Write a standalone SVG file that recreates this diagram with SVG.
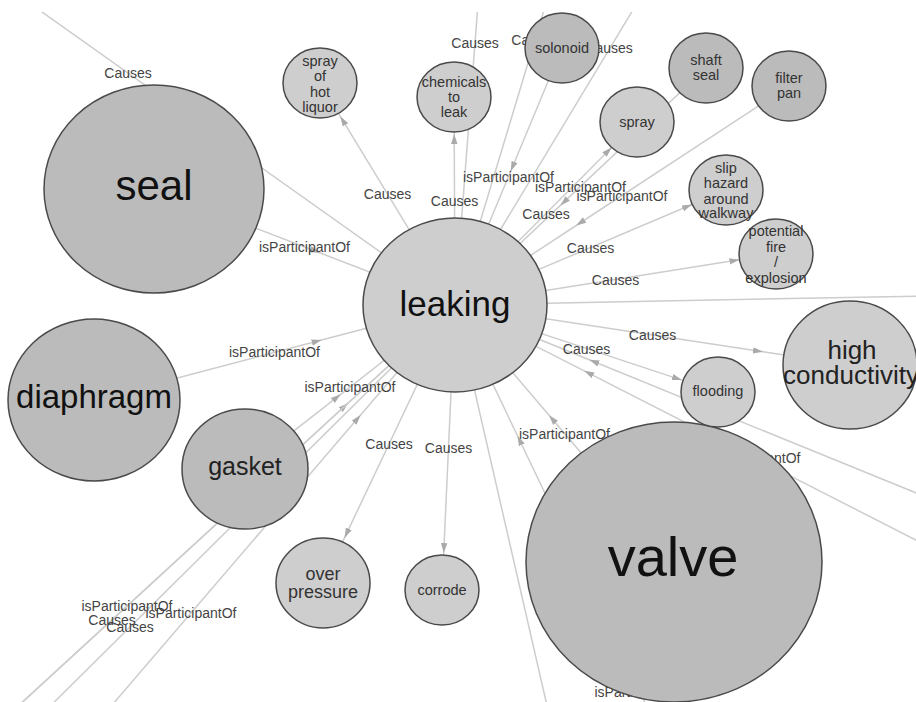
<svg xmlns="http://www.w3.org/2000/svg" width="916" height="702" viewBox="0 0 916 702">
<style>
.edge{stroke:#cdcdcd;stroke-width:1.5;fill:none}
.arr{marker-mid:url(#arrow)}
.lbl{font-family:"Liberation Sans",Arial,sans-serif;font-size:14px;fill:#444;text-anchor:middle}
.dark{fill:#bbbbbb;stroke:#4a4a4a;stroke-width:1.5}
.light{fill:#cecece;stroke:#4a4a4a;stroke-width:1.5}
.t{font-family:"Liberation Sans",Arial,sans-serif;font-size:14.5px;fill:#333;text-anchor:middle}
.big{font-family:"Liberation Sans",Arial,sans-serif;fill:#111;text-anchor:middle}
</style>
<defs>
<marker id="arrow" markerUnits="userSpaceOnUse" orient="auto" viewBox="0 -4 12 8" refX="10" refY="0" markerWidth="12" markerHeight="8">
<path d="M0,-3.2L10,0L0,3.2z" fill="#aaaaaa"/>
</marker>
<clipPath id="clipTop"><rect x="0" y="12" width="916" height="690"/></clipPath>
</defs>
<rect width="916" height="702" fill="#ffffff"/>
<g id="connectors" clip-path="url(#clipTop)">
<polyline class="edge arr" points="154,189 319.7,252.8 455,305"/>
<polyline class="edge arr" points="94,400 321.6,340 455,305"/>
<polyline class="edge arr" points="245,469 340.7,394.3 455,305"/>
<polyline class="edge arr" points="562,48 510.7,171.2 455,305"/>
<polyline class="edge arr" points="706,68 560.4,205.4 455,305"/>
<polyline class="edge arr" points="789,86 576.2,225.5 455,305"/>
<polyline class="edge arr" points="674,562 549.1,415.3 455,305"/>
<polyline class="edge arr" points="1400,690 589.3,359.8 455,305"/>
<polyline class="edge arr" points="1055,611 584.2,370.8 455,305"/>
<polyline class="edge arr" points="825,1079 517.5,435.8 455,305"/>
<polyline class="edge arr" points="-201,907 348.1,403 455,305"/>
<polyline class="edge arr" points="-73,921 360.6,415.1 455,305"/>
<line class="edge" x1="455" y1="305" x2="-231" y2="935"/>
<line class="edge" x1="455" y1="305" x2="-195" y2="949"/>
<line class="edge" x1="455" y1="305" x2="-199" y2="-159"/>
<line class="edge" x1="455" y1="305" x2="495" y2="-219"/>
<line class="edge" x1="455" y1="305" x2="615" y2="-225"/>
<line class="edge" x1="455" y1="305" x2="765" y2="-209"/>
<line class="edge" x1="455" y1="305" x2="1500" y2="285"/>
<line class="edge" x1="455" y1="305" x2="683" y2="1298"/>
<polyline class="edge arr" points="455,305 340.3,116.3 320,83"/>
<polyline class="edge arr" points="455,305 454.2,134 454,97"/>
<polyline class="edge arr" points="455,305 611.6,147.5 637,122"/>
<polyline class="edge arr" points="455,305 692,204.5 726,190"/>
<polyline class="edge arr" points="455,305 739.4,259.8 776,254"/>
<polyline class="edge arr" points="455,305 763,351.8 850,365"/>
<polyline class="edge arr" points="455,305 681.9,380.1 718,392"/>
<polyline class="edge arr" points="455,305 443.7,553 442,590"/>
<polyline class="edge arr" points="455,305 344.5,537.9 323,583"/>
</g>
<g id="edge-labels">
<text class="lbl" x="128" y="78">Causes</text>
<text class="lbl" x="304.5" y="252">isParticipantOf</text>
<text class="lbl" x="274.5" y="357">isParticipantOf</text>
<text class="lbl" x="350" y="392">isParticipantOf</text>
<text class="lbl" x="508.5" y="181.5">isParticipantOf</text>
<text class="lbl" x="580.5" y="191.5">isParticipantOf</text>
<text class="lbl" x="622" y="200.5">isParticipantOf</text>
<text class="lbl" x="564.5" y="438.5">isParticipantOf</text>
<text class="lbl" x="755" y="463">isParticipantOf</text>
<text class="lbl" x="640" y="697">isParticipantOf</text>
<text class="lbl" x="127" y="611">isParticipantOf</text>
<text class="lbl" x="112" y="625">Causes</text>
<text class="lbl" x="130" y="632">Causes</text>
<text class="lbl" x="191" y="618">isParticipantOf</text>
<text class="lbl" x="475" y="48">Causes</text>
<text class="lbl" x="535" y="45">Causes</text>
<text class="lbl" x="609" y="53">Causes</text>
<text class="lbl" x="387.5" y="199">Causes</text>
<text class="lbl" x="454.5" y="206">Causes</text>
<text class="lbl" x="546" y="218.5">Causes</text>
<text class="lbl" x="590.5" y="252.5">Causes</text>
<text class="lbl" x="615.5" y="284.5">Causes</text>
<text class="lbl" x="652.5" y="340">Causes</text>
<text class="lbl" x="586.5" y="353.5">Causes</text>
<text class="lbl" x="448.5" y="452.5">Causes</text>
<text class="lbl" x="389" y="449">Causes</text>
</g>
<g id="node-seal"><ellipse class="dark" cx="154" cy="189" rx="110" ry="104"/><text class="big" x="154" y="200" font-size="42">seal</text></g>
<g id="node-leaking"><ellipse class="light" cx="455" cy="305" rx="92" ry="87"/><text class="big" x="455" y="316" font-size="35">leaking</text></g>
<g id="node-diaphragm"><ellipse class="dark" cx="94" cy="400" rx="86" ry="81"/><text class="big" x="94" y="408" font-size="33">diaphragm</text></g>
<g id="node-gasket"><ellipse class="dark" cx="245" cy="469" rx="63" ry="60"/><text class="big" x="245" y="475" style="font-size:25px;fill:#222">gasket</text></g>
<g id="node-over-pressure"><ellipse class="light" cx="323" cy="583" rx="47" ry="45"/><text class="t" style="font-size:18px"><tspan x="323" y="580">over</tspan><tspan x="323" y="598">pressure</tspan></text></g>
<g id="node-corrode"><ellipse class="light" cx="442" cy="590" rx="37" ry="35"/><text class="t" x="442" y="595">corrode</text></g>
<g id="node-valve"><ellipse class="dark" cx="674" cy="562" rx="148" ry="140"/><text class="big" x="673" y="576" font-size="56">valve</text></g>
<g id="node-flooding"><ellipse class="light" cx="718" cy="392" rx="37" ry="35"/><text class="t" x="718" y="396">flooding</text></g>
<g id="node-high-conductivity"><ellipse class="light" cx="850" cy="365" rx="67" ry="64"/><text class="big" style="font-size:26px;fill:#222"><tspan x="852" y="359">high</tspan><tspan x="851" y="384">conductivity</tspan></text></g>
<g id="node-potential-fire"><ellipse class="light" cx="776" cy="254" rx="37" ry="35"/><text class="t"><tspan x="776" y="236">potential</tspan><tspan x="776" y="252">fire</tspan><tspan x="776" y="267">/</tspan><tspan x="776" y="283">explosion</tspan></text></g>
<g id="node-slip-hazard"><ellipse class="light" cx="726" cy="190" rx="37" ry="35"/><text class="t"><tspan x="726" y="173">slip</tspan><tspan x="726" y="188">hazard</tspan><tspan x="726" y="204">around</tspan><tspan x="726" y="218">walkway</tspan></text></g>
<g id="node-filter-pan"><ellipse class="dark" cx="789" cy="86" rx="37" ry="35"/><text class="t"><tspan x="789" y="83">filter</tspan><tspan x="789" y="98">pan</tspan></text></g>
<g id="node-shaft-seal"><ellipse class="dark" cx="706" cy="68" rx="37" ry="35"/><text class="t"><tspan x="706" y="65">shaft</tspan><tspan x="706" y="80">seal</tspan></text></g>
<g id="node-spray"><ellipse class="light" cx="637" cy="122" rx="37" ry="35"/><text class="t" x="637" y="127">spray</text></g>
<g id="node-solonoid"><ellipse class="dark" cx="562" cy="48" rx="37" ry="35"/><text class="t" x="562" y="53">solonoid</text></g>
<g id="node-chemicals"><ellipse class="light" cx="454" cy="97" rx="37" ry="35"/><text class="t"><tspan x="454" y="87">chemicals</tspan><tspan x="454" y="102">to</tspan><tspan x="454" y="117">leak</tspan></text></g>
<g id="node-spray-hot-liquor"><ellipse class="light" cx="320" cy="83" rx="37" ry="35"/><text class="t"><tspan x="320" y="66">spray</tspan><tspan x="320" y="81">of</tspan><tspan x="320" y="97">hot</tspan><tspan x="320" y="112">liquor</tspan></text></g>
</svg>
